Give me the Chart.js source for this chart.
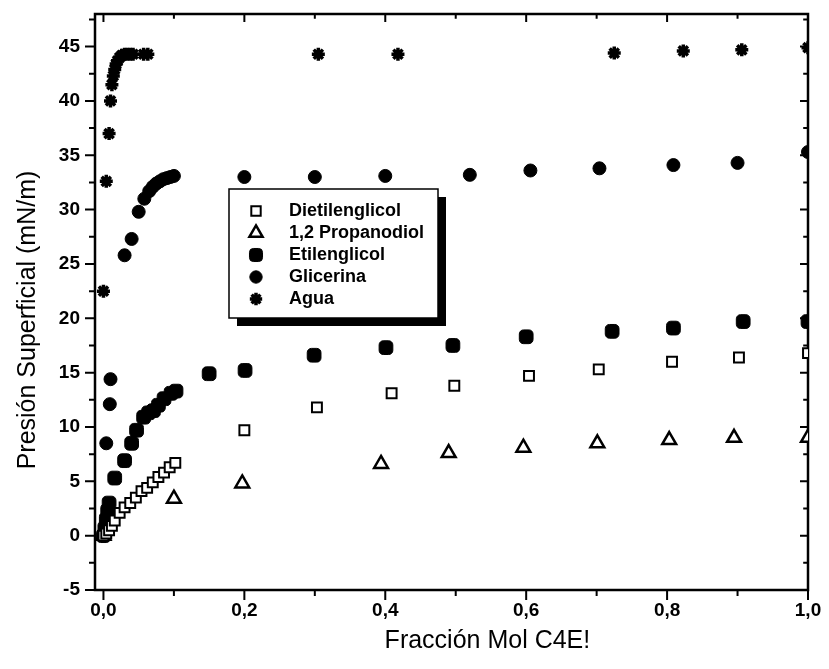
<!DOCTYPE html>
<html><head><meta charset="utf-8">
<script src="https://cdn.jsdelivr.net/npm/chart.js@4/dist/chart.umd.min.js"></script>
<style>html,body{margin:0;padding:0;background:#fff;}</style>
</head><body>
<canvas id="c" width="829" height="669"></canvas>
<script>
const seriesNames = ["Dietilenglicol", "1,2 Propanodiol", "Etilenglicol", "Glicerina", "Agua"];

const dietX = [0, 0.004, 0.008, 0.012, 0.016, 0.023, 0.03, 0.038, 0.046, 0.054, 0.062, 0.07, 0.078, 0.086, 0.094, 0.102, 0.2, 0.303, 0.409, 0.498, 0.604, 0.703, 0.807, 0.902, 1.0];
const dietY = [0, 0.2, 0.5, 0.9, 1.4, 2.1, 2.6, 3.0, 3.5, 4.1, 4.4, 4.9, 5.4, 5.8, 6.3, 6.7, 9.7, 11.8, 13.1, 13.8, 14.7, 15.3, 16.0, 16.4, 16.8];

const propX = [0, 0.1, 0.197, 0.394, 0.49, 0.596, 0.701, 0.803, 0.895, 1.0];
const propY = [0, 3.4, 4.8, 6.6, 7.6, 8.1, 8.5, 8.8, 9.0, 9.0];

const etilX = [0, 0.002, 0.004, 0.006, 0.008, 0.016, 0.03, 0.04, 0.047, 0.057, 0.064, 0.071, 0.078, 0.086, 0.096, 0.103, 0.15, 0.201, 0.299, 0.401, 0.496, 0.6, 0.722, 0.809, 0.908, 1.0];
const etilY = [0, 0.7, 1.5, 2.3, 3.0, 5.3, 6.9, 8.5, 9.7, 10.9, 11.3, 11.5, 12.0, 12.6, 13.1, 13.3, 14.9, 15.2, 16.6, 17.3, 17.5, 18.3, 18.8, 19.1, 19.7, 19.7];

const glicX = [0.004, 0.009, 0.01, 0.03, 0.04, 0.05, 0.058, 0.065, 0.07, 0.075, 0.08, 0.085, 0.09, 0.095, 0.1, 0.2, 0.3, 0.4, 0.52, 0.606, 0.704, 0.809, 0.9, 1.0];
const glicY = [8.5, 12.1, 14.4, 25.8, 27.3, 29.8, 31.0, 31.7, 32.1, 32.4, 32.6, 32.8, 32.9, 33.0, 33.1, 33.0, 33.0, 33.1, 33.2, 33.6, 33.8, 34.1, 34.3, 35.3];

const aguaX = [0, 0.004, 0.008, 0.01, 0.012, 0.014, 0.016, 0.018, 0.02, 0.023, 0.026, 0.03, 0.034, 0.038, 0.042, 0.057, 0.063, 0.305, 0.418, 0.725, 0.823, 0.906, 1.0];
const aguaY = [22.5, 32.6, 37.0, 40.0, 41.5, 42.3, 42.9, 43.4, 43.7, 44.0, 44.2, 44.3, 44.3, 44.3, 44.3, 44.3, 44.3, 44.3, 44.3, 44.4, 44.6, 44.7, 44.9];

const xMajorTicks = [0, 0.2, 0.4, 0.6, 0.8, 1.0];
const xTickLabels = ["0,0", "0,2", "0,4", "0,6", "0,8", "1,0"];
const xMinorTicks = [0.1, 0.3, 0.5, 0.7, 0.9];
const yMajorTicks = [-5, 0, 5, 10, 15, 20, 25, 30, 35, 40, 45];
const yTickLabels = ["-5", "0", "5", "10", "15", "20", "25", "30", "35", "40", "45"];
const yMinorTicks = [-2.5, 2.5, 7.5, 12.5, 17.5, 22.5, 27.5, 32.5, 37.5, 42.5, 47.5];
const xTitle = "Fracción Mol C4E!";
const yTitle = "Presión Superficial (mN/m)";

const FONT = "'Liberation Sans Narrow', 'Liberation Sans', Arial, sans-serif";

function pts(xs, ys) { return xs.map((x, i) => ({ x: x, y: ys[i] })); }

const styles = [
  { pointStyle: 'rect', pointRadius: 7, backgroundColor: '#fff', borderColor: '#000', borderWidth: 2 },
  { pointStyle: 'triangle', pointRadius: 8, backgroundColor: '#fff', borderColor: '#000', borderWidth: 2.5 },
  { pointStyle: 'rectRounded', pointRadius: 8, backgroundColor: '#000', borderColor: '#000', borderWidth: 1 },
  { pointStyle: 'circle', pointRadius: 6.5, backgroundColor: '#000', borderColor: '#000', borderWidth: 1 },
  { pointStyle: 'star', pointRadius: 6.5, backgroundColor: '#000', borderColor: '#000', borderWidth: 3.5 }
];
const allData = [pts(dietX, dietY), pts(propX, propY), pts(etilX, etilY), pts(glicX, glicY), pts(aguaX, aguaY)];

const datasets = seriesNames.map((n, i) => Object.assign({
  label: n, data: allData[i], showLine: false, pointHoverRadius: styles[i].pointRadius
}, styles[i]));

const framePlugin = {
  id: 'frame',
  beforeDatasetsDraw(chart) {
    const ctx = chart.ctx, a = chart.chartArea, xs = chart.scales.x, ys = chart.scales.y;
    ctx.save();
    ctx.strokeStyle = '#000';
    ctx.lineWidth = 2.5;
    ctx.strokeRect(a.left, a.top, a.right - a.left, a.bottom - a.top);
    ctx.lineWidth = 2;
    ctx.beginPath();
    const tick = (v, len, axis) => {
      if (axis === 'x') {
        const px = xs.getPixelForValue(v);
        ctx.moveTo(px, a.bottom); ctx.lineTo(px, a.bottom + len);
        ctx.moveTo(px, a.top); ctx.lineTo(px, a.top + len * 0.8);
      } else {
        const py = ys.getPixelForValue(v);
        if (py < a.top - 1 || py > a.bottom + 1) return;
        ctx.moveTo(a.left, py); ctx.lineTo(a.left - len, py);
        ctx.moveTo(a.right, py); ctx.lineTo(a.right - len * 0.8, py);
      }
    };
    xMajorTicks.forEach(v => tick(v, 10, 'x'));
    xMinorTicks.forEach(v => tick(v, 6, 'x'));
    yMajorTicks.forEach(v => tick(v, 10, 'y'));
    yMinorTicks.forEach(v => tick(v, 6, 'y'));
    ctx.stroke();
    ctx.restore();
  },
  afterDatasetsDraw(chart) {
    const ctx = chart.ctx;
    const L = 229, T = 189, R = 438, B = 318, sh = 8;
    ctx.save();
    ctx.fillStyle = '#000';
    ctx.fillRect(L + sh, T + sh, R - L, B - T);
    ctx.fillStyle = '#fff';
    ctx.fillRect(L, T, R - L, B - T);
    ctx.strokeStyle = '#000';
    ctx.lineWidth = 1.5;
    ctx.strokeRect(L, T, R - L, B - T);
    chart.data.datasets.forEach((ds, i) => {
      const cy = T + 22 + i * 22;
      ctx.fillStyle = ds.backgroundColor;
      ctx.strokeStyle = ds.borderColor;
      ctx.lineWidth = ds.borderWidth;
      Chart.helpers.drawPoint(ctx, { pointStyle: ds.pointStyle, radius: ds.pointRadius * 0.95, borderWidth: ds.borderWidth }, L + 27, cy);
      ctx.fillStyle = '#000';
      ctx.font = "bold 18px " + FONT;
      ctx.textAlign = 'left';
      ctx.textBaseline = 'middle';
      ctx.fillText(ds.label, L + 60, cy);
    });
    ctx.restore();
  },
  afterDraw(chart) {
    const ctx = chart.ctx, a = chart.chartArea, xs = chart.scales.x;
    ctx.save();
    ctx.fillStyle = '#000';
    ctx.font = "25px " + FONT;
    ctx.textAlign = 'center';
    ctx.textBaseline = 'middle';
    ctx.fillText(xTitle, xs.getPixelForValue(0.545), 641);
    ctx.translate(28, 320);
    ctx.rotate(-Math.PI / 2);
    ctx.fillText(yTitle, 0, 0);
    ctx.restore();
  }
};

new Chart(document.getElementById('c'), {
  type: 'scatter',
  data: { datasets: datasets },
  plugins: [framePlugin],
  options: {
    responsive: false,
    animation: false,
    devicePixelRatio: 1,
    layout: { padding: { left: 0, right: 21, top: 14, bottom: 0 } },
    plugins: { legend: { display: false }, tooltip: { enabled: false } },
    scales: {
      x: {
        type: 'linear', min: -0.012, max: 1.0,
        afterBuildTicks: s => { s.ticks = xMajorTicks.map(v => ({ value: v })); },
        afterFit: s => { s.height = 79; s.paddingLeft = 0; s.paddingRight = 0; },
        grid: { display: false }, border: { display: false },
        ticks: {
          autoSkip: false, maxRotation: 0, padding: 1, color: '#000',
          font: { family: FONT, size: 19, weight: 'bold' },
          callback: (v, i) => xTickLabels[i]
        }
      },
      y: {
        type: 'linear', min: -5, max: 48,
        afterBuildTicks: s => { s.ticks = yMajorTicks.map(v => ({ value: v })); },
        afterFit: s => { s.width = 95; s.paddingTop = 0; s.paddingBottom = 0; },
        grid: { display: false }, border: { display: false },
        ticks: {
          autoSkip: false, padding: 7, color: '#000',
          font: { family: FONT, size: 19, weight: 'bold' },
          callback: (v, i) => yTickLabels[i]
        }
      }
    }
  }
});
</script>
</body></html>
